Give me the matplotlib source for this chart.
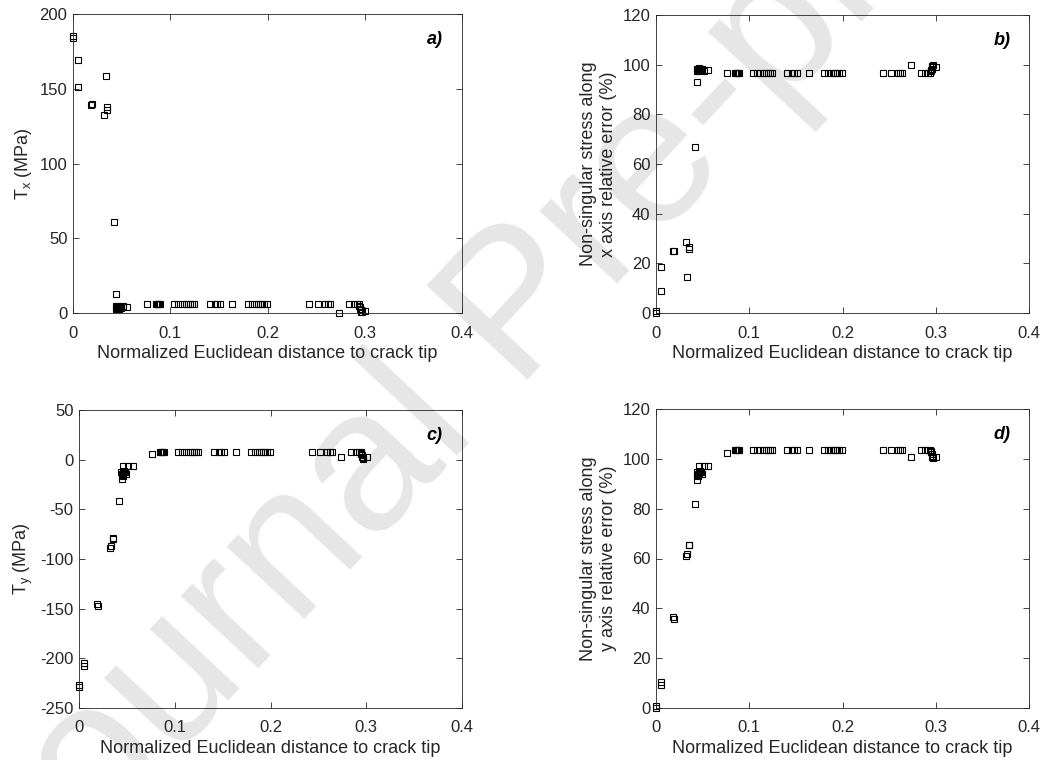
import matplotlib
matplotlib.use('Agg')
import matplotlib.pyplot as plt

plt.rcParams['font.family'] = ['Liberation Sans', 'DejaVu Sans']
plt.rcParams['mathtext.default'] = 'regular'
plt.rcParams['axes.unicode_minus'] = False

# points close to the crack tip
x_near = [0.000, 0.0005, 0.0055, 0.005, 0.0185, 0.0195, 0.032, 0.0336, 0.035, 0.0352, 0.042, 0.0445]
tx_near = [185.5, 184.0, 169.0, 151.0, 139.0, 139.5, 132.6, 158.7, 138.0, 136.0, 61.0, 12.5]
ex_near = [0.0, 1.0, 8.7, 18.5, 25.0, 24.8, 28.4, 14.4, 25.6, 26.7, 67.0, 93.2]
ty_near = [-229.0, -227.0, -205.0, -207.5, -145.0, -147.0, -89.0, -87.4, -79.0, -79.5, -41.8, -19.4]
ey_near = [0.0, 0.9, 10.4, 9.3, 36.6, 35.7, 61.1, 61.8, 65.5, 65.3, 81.7, 91.5]

# cluster around 0.045
x_knee = [0.044, 0.0445, 0.045, 0.0455, 0.046, 0.047, 0.048, 0.049, 0.046, 0.051, 0.056, 0.0766]
tx_knee = [5.0, 3.0, 4.0, 3.5, 2.5, 3.0, 4.0, 3.5, 4.5, 4.5, 4.0, 6.0]
ex_knee = [97.3, 98.4, 97.8, 98.1, 98.6, 98.4, 97.8, 98.1, 97.6, 97.6, 97.8, 96.7]
ty_knee = [-12.0, -15.0, -14.0, -16.0, -13.0, -11.0, -12.0, -14.0, -6.3, -6.3, -6.3, 5.75]
ey_knee = [94.8, 93.4, 93.9, 93.0, 94.3, 95.2, 94.8, 93.9, 97.2, 97.2, 97.2, 102.5]

# plateau
x_flat = [0.085, 0.086, 0.087, 0.088, 0.089, 0.1035, 0.108, 0.112, 0.116, 0.118, 0.120, 0.122,
          0.124, 0.141, 0.146, 0.148, 0.151, 0.164, 0.180, 0.184, 0.188, 0.190, 0.192, 0.194,
          0.196, 0.199, 0.243, 0.252, 0.259, 0.262, 0.264, 0.284, 0.289, 0.292]
tx_flat = [6.0, 6.0, 6.0, 6.0, 6.0, 6.0, 6.0, 6.0, 6.0, 6.0, 6.0, 6.0,
           6.0, 6.0, 6.0, 6.0, 6.0, 6.0, 6.0, 6.0, 6.0, 6.0, 6.0, 6.0,
           6.0, 6.0, 6.0, 6.0, 6.0, 6.0, 6.0, 6.0, 6.0, 6.0]
ex_flat = [96.7, 96.7, 96.7, 96.7, 96.7, 96.7, 96.7, 96.7, 96.7, 96.7, 96.7, 96.7,
           96.7, 96.7, 96.7, 96.7, 96.7, 96.7, 96.7, 96.7, 96.7, 96.7, 96.7, 96.7,
           96.7, 96.7, 96.7, 96.7, 96.7, 96.7, 96.7, 96.7, 96.7, 96.7]
ty_flat = [8.1, 8.1, 8.1, 8.1, 8.1, 8.1, 8.1, 8.1, 8.1, 8.1, 8.1, 8.1,
           8.1, 8.1, 8.1, 8.1, 8.1, 8.1, 8.1, 8.1, 8.1, 8.1, 8.1, 8.1,
           8.1, 8.1, 8.1, 8.1, 8.1, 8.1, 8.1, 8.1, 8.1, 8.1]
ey_flat = [103.4, 103.4, 103.4, 103.4, 103.4, 103.4, 103.4, 103.4, 103.4, 103.4, 103.4, 103.4,
           103.4, 103.4, 103.4, 103.4, 103.4, 103.4, 103.4, 103.4, 103.4, 103.4, 103.4, 103.4,
           103.4, 103.4, 103.4, 103.4, 103.4, 103.4, 103.4, 103.4, 103.4, 103.4]

# far points
x_far = [0.2735, 0.294, 0.2945, 0.295, 0.2955, 0.296, 0.2965, 0.297, 0.3005]
tx_far = [0.0, 6.0, 5.0, 4.0, 3.0, 2.0, 1.0, 0.5, 1.5]
ex_far = [100.0, 96.7, 97.3, 97.8, 98.4, 98.9, 99.5, 99.7, 99.2]
ty_far = [2.4, 8.0, 7.0, 6.0, 4.5, 3.0, 2.0, 1.0, 2.4]
ey_far = [100.7, 103.5, 103.1, 102.6, 102.0, 101.3, 100.9, 100.4, 100.7]

x_dist = x_near + x_knee + x_flat + x_far
tx_mpa = tx_near + tx_knee + tx_flat + tx_far
tx_err = ex_near + ex_knee + ex_flat + ex_far
ty_mpa = ty_near + ty_knee + ty_flat + ty_far
ty_err = ey_near + ey_knee + ey_flat + ey_far

x_ticks = [0, 0.1, 0.2, 0.3, 0.4]
x_ticklabels = ['0', '0.1', '0.2', '0.3', '0.4']
xlab = 'Normalized Euclidean distance to crack tip'

W, H = 1042, 760
fig = plt.figure(figsize=(W / 100, H / 100), dpi=100)

# watermark, anchored at the start of its baseline (partly off the page)
fig.text(28 / W, 1 - 915 / H, 'Journal Pre-proof', fontsize=145, color='#e6e6e6',
         rotation=47, ha='left', va='baseline', rotation_mode='anchor', zorder=-5)


def box(l, t, r, b):
    return [l / W, 1 - b / H, (r - l) / W, (b - t) / H]


def panel(rect, yvals, ylim, yticks, ylabel, tag):
    ax = fig.add_axes(box(*rect))
    ax.set_facecolor('none')
    ax.plot(x_dist, yvals, 's', mfc='none', mec='black', ms=5, mew=0.8, clip_on=False)
    ax.set_xlim(0, 0.4)
    ax.set_ylim(*ylim)
    ax.set_xticks(x_ticks)
    ax.set_xticklabels(x_ticklabels)
    ax.set_yticks(yticks)
    ax.tick_params(direction='in', top=True, right=True, length=4, width=0.6,
                   labelsize=12, colors='#262626', pad=9)
    ax.tick_params(axis='y', pad=4)
    for s in ax.spines.values():
        s.set_color('#262626')
        s.set_linewidth(0.6)
    ax.set_xlabel(xlab, fontsize=13, color='#262626', labelpad=3)
    ax.set_ylabel(ylabel, fontsize=13, color='#262626', labelpad=4)
    ax.text(0.95, 0.915, tag, transform=ax.transAxes, ha='right', va='center',
            fontsize=13, fontweight='bold', fontstyle='italic')
    return ax


panel((73, 14, 462, 313), tx_mpa, (0, 200), [0, 50, 100, 150, 200], 'T$_x$ (MPa)', 'a)')
panel((656, 15, 1029, 313), tx_err, (0, 120), [0, 20, 40, 60, 80, 100, 120],
      'Non-singular stress along\nx axis relative error (%)', 'b)')
panel((79, 410, 462, 708), ty_mpa, (-250, 50), [-250, -200, -150, -100, -50, 0, 50], 'T$_y$ (MPa)', 'c)')
panel((656, 409, 1029, 708), ty_err, (0, 120), [0, 20, 40, 60, 80, 100, 120],
      'Non-singular stress along\ny axis relative error (%)', 'd)')

fig.savefig('out.png', dpi=100)
